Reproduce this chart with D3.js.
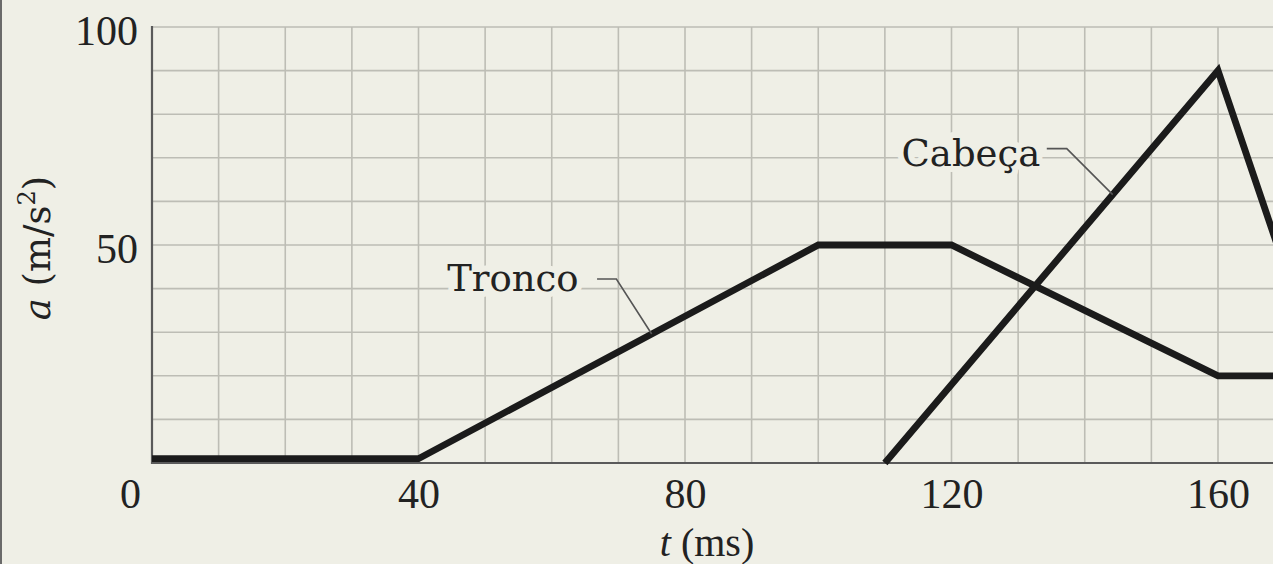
<!DOCTYPE html>
<html>
<head>
<meta charset="utf-8">
<script src="https://cdn.jsdelivr.net/npm/d3@7/dist/d3.min.js"></script>
<style>
  html, body { margin: 0; padding: 0; background: #efefe6; overflow: hidden; }
  svg { display: block; }
</style>
</head>
<body>
<svg id="chart" width="1273" height="564"></svg>
<script>
// ---- data ----
const troncoT = [0, 40, 100, 120, 160, 180];
const troncoA = [1, 1, 50, 50, 20, 20];
const cabecaT = [110, 160, 180];
const cabecaA = [0, 90, 0];
const xTickValues = [0, 40, 80, 120, 160];
const yTickValues = [50, 100];
const xGridValues = [0, 10, 20, 30, 40, 50, 60, 70, 80, 90, 100, 110, 120, 130, 140, 150, 160, 170];
const yGridValues = [10, 20, 30, 40, 50, 60, 70, 80, 90, 100];
const seriesLabels = ["Tronco", "Cabeça"];

// ---- setup ----
const W = 1273, H = 564;
const BG = "#efefe6";
const svg = d3.select("#chart");
svg.append("rect").attr("width", W).attr("height", H).attr("fill", BG);

const x = d3.scaleLinear().domain([0, 160]).range([152, 1218]);
const y = d3.scaleLinear().domain([0, 100]).range([463, 27]);
const xMaxPx = W + 10;

// grid
const grid = svg.append("g").attr("stroke", "#bdbdb5").attr("stroke-width", 1.6);
grid.selectAll("line.v").data(xGridValues).join("line")
  .attr("class", "v")
  .attr("x1", d => x(d)).attr("x2", d => x(d))
  .attr("y1", y(100)).attr("y2", y(0));
grid.selectAll("line.h").data(yGridValues).join("line")
  .attr("class", "h")
  .attr("x1", x(0)).attr("x2", xMaxPx)
  .attr("y1", d => y(d)).attr("y2", d => y(d));

// axes lines
svg.append("line").attr("x1", x(0)).attr("x2", x(0)).attr("y1", y(100) - 1).attr("y2", y(0) + 1)
  .attr("stroke", "#5a5a5a").attr("stroke-width", 2.2);
svg.append("line").attr("x1", x(0)).attr("x2", xMaxPx).attr("y1", y(0)).attr("y2", y(0))
  .attr("stroke", "#5a5a5a").attr("stroke-width", 2.2);

// left frame edge
svg.append("rect").attr("x", 0).attr("y", 0).attr("width", 2).attr("height", H).attr("fill", "#6a6a6a");

// x axis ticks
const xAxis = d3.axisBottom(x).tickValues(xTickValues).tickSize(0).tickPadding(15).tickFormat(d3.format("d"));
const gx = svg.append("g").attr("transform", `translate(0,${y(0)})`).call(xAxis);
gx.select(".domain").remove();
gx.selectAll("text")
  .attr("font-family", "'Liberation Serif', serif").attr("font-size", 42).attr("fill", "#222");
gx.selectAll(".tick").filter(d => d === 0).select("text").attr("x", -22);

// y axis ticks
const yAxis = d3.axisLeft(y).tickValues(yTickValues).tickSize(0).tickPadding(14).tickFormat(d3.format("d"));
const gy = svg.append("g").attr("transform", `translate(${x(0)},0)`).call(yAxis);
gy.select(".domain").remove();
gy.selectAll("text")
  .attr("font-family", "'Liberation Serif', serif").attr("font-size", 42).attr("fill", "#222")
  .attr("dy", "0.42em");

// axis titles
const xt = svg.append("text").attr("x", 707).attr("y", 556).attr("text-anchor", "middle")
  .attr("font-family", "'Liberation Serif', serif").attr("font-size", 40).attr("fill", "#222");
xt.append("tspan").attr("font-style", "italic").text("t");
xt.append("tspan").text(" (ms)");

const yt = svg.append("text").attr("transform", "translate(50,248) rotate(-90)").attr("text-anchor", "middle")
  .attr("font-family", "'DejaVu Serif', serif").attr("font-size", 37).attr("fill", "#222");
yt.append("tspan").attr("font-style", "italic").text("a");
yt.append("tspan").text(" (m/s");
yt.append("tspan").attr("font-size", 24).attr("dy", -15).text("2");
yt.append("tspan").attr("dy", 15).text(")");

// series lines
const line = d3.line().x(d => x(d[0])).y(d => y(d[1]));
const tronco = troncoT.map((t, i) => [t, troncoA[i]]);
const cabeca = cabecaT.map((t, i) => [t, cabecaA[i]]);
svg.append("path").datum(tronco).attr("d", line)
  .attr("fill", "none").attr("stroke", "#1b1b1b").attr("stroke-width", 6.8).attr("stroke-linejoin", "miter");
svg.append("path").datum(cabeca).attr("d", line)
  .attr("fill", "none").attr("stroke", "#1b1b1b").attr("stroke-width", 6.8).attr("stroke-linejoin", "miter");

// annotations (label position in data coords, leader elbow and end in data coords)
const interp = (ts, as, t) => {
  for (let i = 0; i < ts.length - 1; i++) {
    if (t >= ts[i] && t <= ts[i + 1]) return as[i] + (as[i + 1] - as[i]) * (t - ts[i]) / (ts[i + 1] - ts[i]);
  }
  return as[as.length - 1];
};
const annos = [
  { label: seriesLabels[0], tx: 44.3, ta: 39.5, lx0: 66.8, lx1: 69.7, la: 42.2, ex: 75, ea: interp(troncoT, troncoA, 75) },
  { label: seriesLabels[1], tx: 112.5, ta: 68.1, lx0: 134.3, lx1: 137.3, la: 72.1, ex: 144.2, ea: interp(cabecaT, cabecaA, 144.2) }
];
annos.forEach(a => {
  svg.append("text").attr("x", x(a.tx)).attr("y", y(a.ta))
    .attr("font-family", "'DejaVu Serif', serif").attr("font-size", 37).attr("fill", "#222")
    .attr("stroke", BG).attr("stroke-width", 12).attr("paint-order", "stroke").attr("stroke-linejoin", "round")
    .text(a.label);
  svg.append("path")
    .attr("d", `M${x(a.lx0)},${y(a.la)} L${x(a.lx1)},${y(a.la)} L${x(a.ex)},${y(a.ea)}`)
    .attr("fill", "none").attr("stroke", "#555").attr("stroke-width", 1.6);
});
</script>
</body>
</html>
